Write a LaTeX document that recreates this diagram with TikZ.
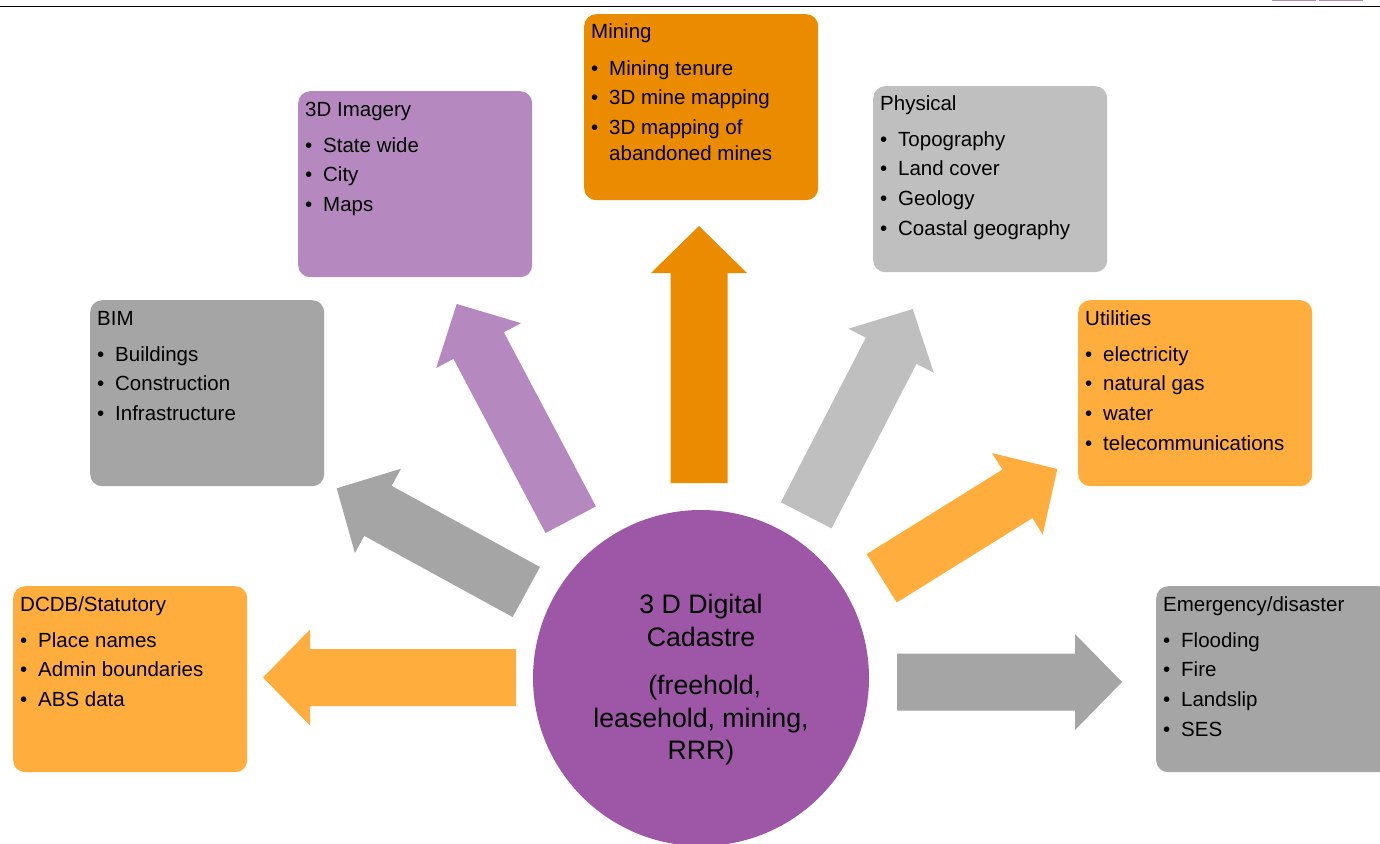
\documentclass[tikz,border=0pt]{standalone}
\usepackage{fontspec}
\setmainfont{Liberation Sans}
\usetikzlibrary{calc}

\definecolor{minegold}{RGB}{234,139,0}
\definecolor{lightgold}{RGB}{255,173,60}
\definecolor{lilac}{RGB}{181,137,192}
\definecolor{plum}{RGB}{157,87,166}
\definecolor{midgrey}{RGB}{165,165,165}
\definecolor{lightgrey}{RGB}{191,191,191}

\newcommand{\bul}{\makebox[18pt][l]{\textbullet}}
\newcommand{\blockarrow}[3]{%
  \coordinate (#1-b) at ($(#2)!47pt!(#1)$);
  \fill[#3] ($(#1)!28.5pt!90:(#2)$) -- ($(#1-b)!28.5pt!90:(#2)$)
    -- ($(#1-b)!48pt!90:(#2)$) -- (#2)
    -- ($(#1-b)!48pt!-90:(#2)$) -- ($(#1-b)!28.5pt!-90:(#2)$)
    -- ($(#1)!28.5pt!-90:(#2)$) -- cycle;
}

\begin{document}
\begin{tikzpicture}[x=1pt, y=-1pt,
    box/.style={rounded corners=12pt, anchor=north west, inner sep=0pt,
        minimum width=234pt, minimum height=186pt},
    list/.style={anchor=base west, inner sep=0pt, font=\fontsize{20.5}{26}\selectfont}
]
    \useasboundingbox (0,0) rectangle (1380,843);
    \fill[white] (0,0) rectangle (1380,843);

    \draw[line width=1.7pt] (0,6.5) -- (1380,6.5);
    \fill[lilac] (1272,0) rectangle (1316,1.2);
    \fill[lilac] (1319,0) rectangle (1363,1.2);

    \coordinate (dcdbT) at (516,677.5);   \coordinate (dcdbH) at (263,677.5);
    \coordinate (bimT) at (526.3,592);    \coordinate (bimH) at (336.7,488.3);
    \coordinate (imgT) at (570.7,519.7);  \coordinate (imgH) at (456.7,304);
    \coordinate (mineT) at (699,483);     \coordinate (mineH) at (699,226);
    \coordinate (physT) at (806.2,515.3); \coordinate (physH) at (912.7,309);
    \coordinate (utilT) at (881.7,578.3); \coordinate (utilH) at (1057.3,469);
    \coordinate (emgT) at (897,682);      \coordinate (emgH) at (1122,682);

    \blockarrow{dcdbT}{dcdbH}{lightgold}
    \blockarrow{bimT}{bimH}{midgrey}
    \blockarrow{imgT}{imgH}{lilac}
    \blockarrow{mineT}{mineH}{minegold}
    \blockarrow{physT}{physH}{lightgrey}
    \blockarrow{utilT}{utilH}{lightgold}
    \blockarrow{emgT}{emgH}{midgrey}

    \node[circle, fill=plum, minimum size=336pt, inner sep=0pt] (cadastre) at (701,678) {};
    \node[anchor=base, inner sep=0pt, font=\fontsize{26.7}{32.5}\selectfont] (cadastretext)
        at (701,613.5) {\begin{tabular}[t]{@{}c@{}}
        3 D Digital\\
        Cadastre\\[16pt]
        \ (freehold,\\
        leasehold, mining,\\
        RRR)
    \end{tabular}};

    \node[box, fill=minegold] (mining) at (584,14) {};
    \node[list] (miningtext) at ($(mining.north west)+(7,25)$) {\begin{tabular}[t]{@{}l@{}}
        Mining\\[10pt]
        \bul Mining tenure\\[3.6pt]
        \bul 3D mine mapping\\[3.6pt]
        \bul 3D mapping of\\
        \hspace*{18pt}abandoned mines
    \end{tabular}};

    \node[box, fill=lilac] (imagery) at (298,91) {};
    \node[list] (imagerytext) at ($(imagery.north west)+(7,25)$) {\begin{tabular}[t]{@{}l@{}}
        3D Imagery\\[10pt]
        \bul State wide\\[3.6pt]
        \bul City\\[3.6pt]
        \bul Maps
    \end{tabular}};

    \node[box, fill=lightgrey] (physical) at (873,86) {};
    \node[list] (physicaltext) at ($(physical.north west)+(7,24)$) {\begin{tabular}[t]{@{}l@{}}
        Physical\\[10pt]
        \bul Topography\\[3.9pt]
        \bul Land cover\\[3.9pt]
        \bul Geology\\[3.9pt]
        \bul Coastal geography
    \end{tabular}};

    \node[box, fill=midgrey] (bim) at (90,300) {};
    \node[list] (bimtext) at ($(bim.north west)+(7,25)$) {\begin{tabular}[t]{@{}l@{}}
        BIM\\[10pt]
        \bul Buildings\\[3.6pt]
        \bul Construction\\[3.6pt]
        \bul Infrastructure
    \end{tabular}};

    \node[box, fill=lightgold] (utilities) at (1078,300) {};
    \node[list] (utilitiestext) at ($(utilities.north west)+(7,25)$) {\begin{tabular}[t]{@{}l@{}}
        Utilities\\[10pt]
        \bul electricity\\[3.9pt]
        \bul natural gas\\[3.9pt]
        \bul water\\[3.9pt]
        \bul telecommunications
    \end{tabular}};

    \node[box, fill=lightgold] (dcdb) at (13,586) {};
    \node[list] (dcdbtext) at ($(dcdb.north west)+(7,25)$) {\begin{tabular}[t]{@{}l@{}}
        DCDB/Statutory\\[10pt]
        \bul Place names\\[3.6pt]
        \bul Admin boundaries\\[3.6pt]
        \bul ABS data
    \end{tabular}};

    \node[box, fill=midgrey] (emergency) at (1156,586) {};
    \node[list] (emergencytext) at ($(emergency.north west)+(7,25)$) {\begin{tabular}[t]{@{}l@{}}
        Emergency/disaster\\[10pt]
        \bul Flooding\\[3.9pt]
        \bul Fire\\[3.9pt]
        \bul Landslip\\[3.9pt]
        \bul SES
    \end{tabular}};
\end{tikzpicture}
\end{document}
